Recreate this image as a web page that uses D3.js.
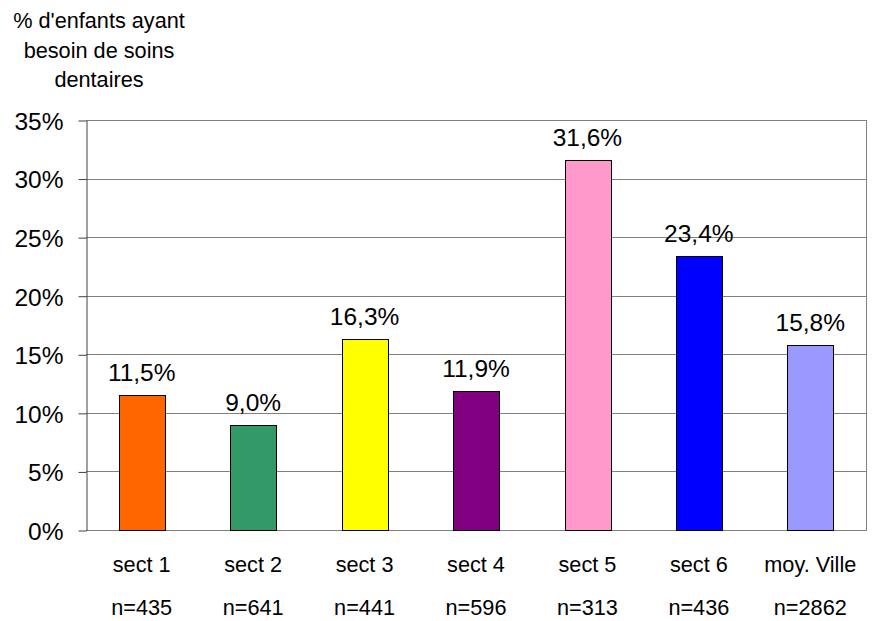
<!DOCTYPE html>
<html><head><meta charset="utf-8">
<script src="https://cdn.jsdelivr.net/npm/d3@7"></script>
<style>body{margin:0;background:#fff}svg{display:block}text{font-family:"Liberation Sans",Arial,sans-serif;fill:#000}</style>
</head><body><svg id="c" width="876" height="621"></svg>
<script>
const categories = ["sect 1","sect 2","sect 3","sect 4","sect 5","sect 6","moy. Ville"];
const sampleSizes = ["n=435","n=641","n=441","n=596","n=313","n=436","n=2862"];
const values = [11.5, 9.0, 16.3, 11.9, 31.6, 23.4, 15.8];
const colors = ["#FF6600","#339966","#FFFF00","#800080","#FF99CC","#0000FF","#9999FF"];
const yTicks = [0,5,10,15,20,25,30,35];
const titleLines = ["% d'enfants ayant","besoin de soins","dentaires"];

const svg = d3.select("#c");
const L=86, R=866, T=120, B=530;
const x = d3.scaleBand().domain(categories).range([L,R]).paddingInner(0.59).paddingOuter(0.295);
const y = d3.scaleLinear().domain([0,35]).range([B,T]);

// gridlines
svg.append("g").selectAll("line").data(yTicks.filter(d=>d>0)).join("line")
  .attr("x1",L).attr("x2",R).attr("y1",d=>Math.round(y(d))+0.5).attr("y2",d=>Math.round(y(d))+0.5)
  .attr("stroke","#808080").attr("stroke-width",1);
// right border
svg.append("line").attr("x1",R+0.5).attr("x2",R+0.5).attr("y1",T).attr("y2",B).attr("stroke","#808080");
// bottom line
svg.append("line").attr("x1",L).attr("x2",R+1).attr("y1",B+0.5).attr("y2",B+0.5).attr("stroke","#808080");

// bars
svg.append("g").selectAll("rect").data(values).join("rect")
  .attr("x",(d,i)=>Math.round(x(categories[i]))+0.5)
  .attr("y",d=>Math.round(y(d))+0.5)
  .attr("width",Math.round(x.bandwidth()))
  .attr("height",d=>Math.round(B-y(d)))
  .attr("fill",(d,i)=>colors[i]).attr("stroke","#000").attr("stroke-width",1);

// value labels
svg.append("g").selectAll("text").data(values).join("text")
  .attr("x",(d,i)=>x(categories[i])+x.bandwidth()/2)
  .attr("y",d=>y(d)-14)
  .attr("text-anchor","middle").attr("font-size","24.5px")
  .text(d=>d.toFixed(1).replace(".",",")+"%");

// y axis
const yAxis = d3.axisLeft(y).tickValues(yTicks).tickFormat(d=>d+"%").tickSize(8).tickSizeOuter(0);
const ga = svg.append("g").attr("transform",`translate(${L+0.5},0.5)`).call(yAxis);
ga.select(".domain").attr("stroke","#404040");
ga.selectAll(".tick line").attr("stroke","#404040");
ga.selectAll(".tick text").attr("font-size","24.5px").attr("font-family","Liberation Sans, Arial, sans-serif").attr("fill","#000").attr("x",-23).attr("dy","0.36em");

// x labels
svg.append("g").selectAll("text").data(categories).join("text")
  .attr("x",d=>x(d)+x.bandwidth()/2).attr("y",572)
  .attr("text-anchor","middle").attr("font-size","21.7px").text(d=>d);
svg.append("g").selectAll("text").data(sampleSizes).join("text")
  .attr("x",(d,i)=>x(categories[i])+x.bandwidth()/2).attr("y",615)
  .attr("text-anchor","middle").attr("font-size","21.7px").text(d=>d);

// title
svg.append("g").selectAll("text").data(titleLines).join("text")
  .attr("x",99).attr("y",(d,i)=>28+i*29.5)
  .attr("text-anchor","middle").attr("font-size","21.7px").text(d=>d);
</script></body></html>
